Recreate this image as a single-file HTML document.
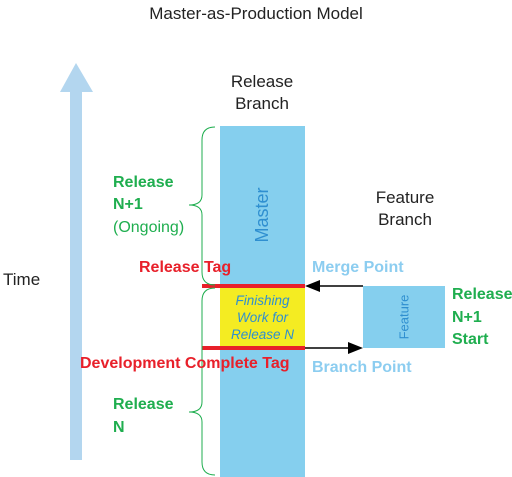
<!DOCTYPE html>
<html><head><style>
body{margin:0;width:512px;height:477px;background:#fff;overflow:hidden;position:relative;font-family:"Liberation Sans",sans-serif}
.t{position:absolute;white-space:nowrap;line-height:1}
.g{color:#1fae4f;font-weight:bold;font-size:16px}
.r{color:#e8202a;font-weight:bold;font-size:16px}
.b{color:#8ccdf0;font-weight:bold;font-size:16px}
</style></head><body>
<svg width="512" height="477" style="position:absolute;left:0;top:0">
<rect x="70" y="92" width="12" height="368" fill="#b3d6ef"/>
<polygon points="76,63 60,92 93,92" fill="#b3d6ef"/>
<rect x="220" y="126" width="85" height="351" fill="#85cfee"/>
<rect x="220" y="287" width="85" height="61" fill="#f4ec22"/>
<rect x="363" y="286" width="82" height="62" fill="#85cfee"/>
<line x1="202" y1="286" x2="305" y2="286" stroke="#e8202a" stroke-width="4"/>
<line x1="202" y1="348" x2="305" y2="348" stroke="#e8202a" stroke-width="4"/>
<line x1="363" y1="286" x2="318" y2="286" stroke="#000" stroke-width="1.5"/>
<polygon points="305,286 320,280 320,292" fill="#000"/>
<line x1="305" y1="348" x2="350" y2="348" stroke="#000" stroke-width="1.5"/>
<polygon points="363,348 348,342 348,354" fill="#000"/>
<path d="M215,127 Q202,127 202,140 L202,195 Q202,205 189,205 Q202,205 202,215 L202,272 Q202,285 215,285" fill="none" stroke="#1fae4f" stroke-width="1"/>
<path d="M215,288 Q202,288 202,301 L202,402 Q202,412 189,412 Q202,412 202,422 L202,462 Q202,475 215,475" fill="none" stroke="#1fae4f" stroke-width="1"/>
</svg>
<div class="t" style="left:0;width:512px;text-align:center;top:5px;font-size:17px;color:#222">Master-as-Production Model</div>
<div class="t" style="left:212px;width:100px;text-align:center;top:71px;font-size:17px;color:#222;line-height:22px">Release<br>Branch</div>
<div class="t" style="left:355px;width:100px;text-align:center;top:187px;font-size:17px;color:#222;line-height:22px">Feature<br>Branch</div>
<div class="t" style="left:3px;top:271px;font-size:17px;color:#222">Time</div>
<div class="t" style="left:262px;top:215px;font-size:18px;color:#2f8fd0;transform:translate(-50%,-50%) rotate(-90deg)">Master</div>
<div class="t" style="left:404px;top:317px;font-size:13px;color:#2f8fd0;transform:translate(-50%,-50%) rotate(-90deg)">Feature</div>
<div class="t" style="left:218px;width:89px;text-align:center;top:292px;font-size:13.5px;font-style:italic;color:#2f8fd0;line-height:17px">Finishing<br>Work for<br>Release N</div>
<div class="t g" style="left:113px;top:175px">Release</div>
<div class="t g" style="left:113px;top:197px">N+1</div>
<div class="t" style="left:113px;top:220px;font-size:16px;color:#1fae4f">(Ongoing)</div>
<div class="t r" style="left:139px;top:260px">Release Tag</div>
<div class="t r" style="left:80px;top:356px">Development Complete Tag</div>
<div class="t g" style="left:113px;top:397px">Release</div>
<div class="t g" style="left:113px;top:420px">N</div>
<div class="t b" style="left:312px;top:260px">Merge Point</div>
<div class="t b" style="left:312px;top:360px">Branch Point</div>
<div class="t g" style="left:452px;top:287px">Release</div>
<div class="t g" style="left:452px;top:310px">N+1</div>
<div class="t g" style="left:452px;top:332px">Start</div>
</body></html>
